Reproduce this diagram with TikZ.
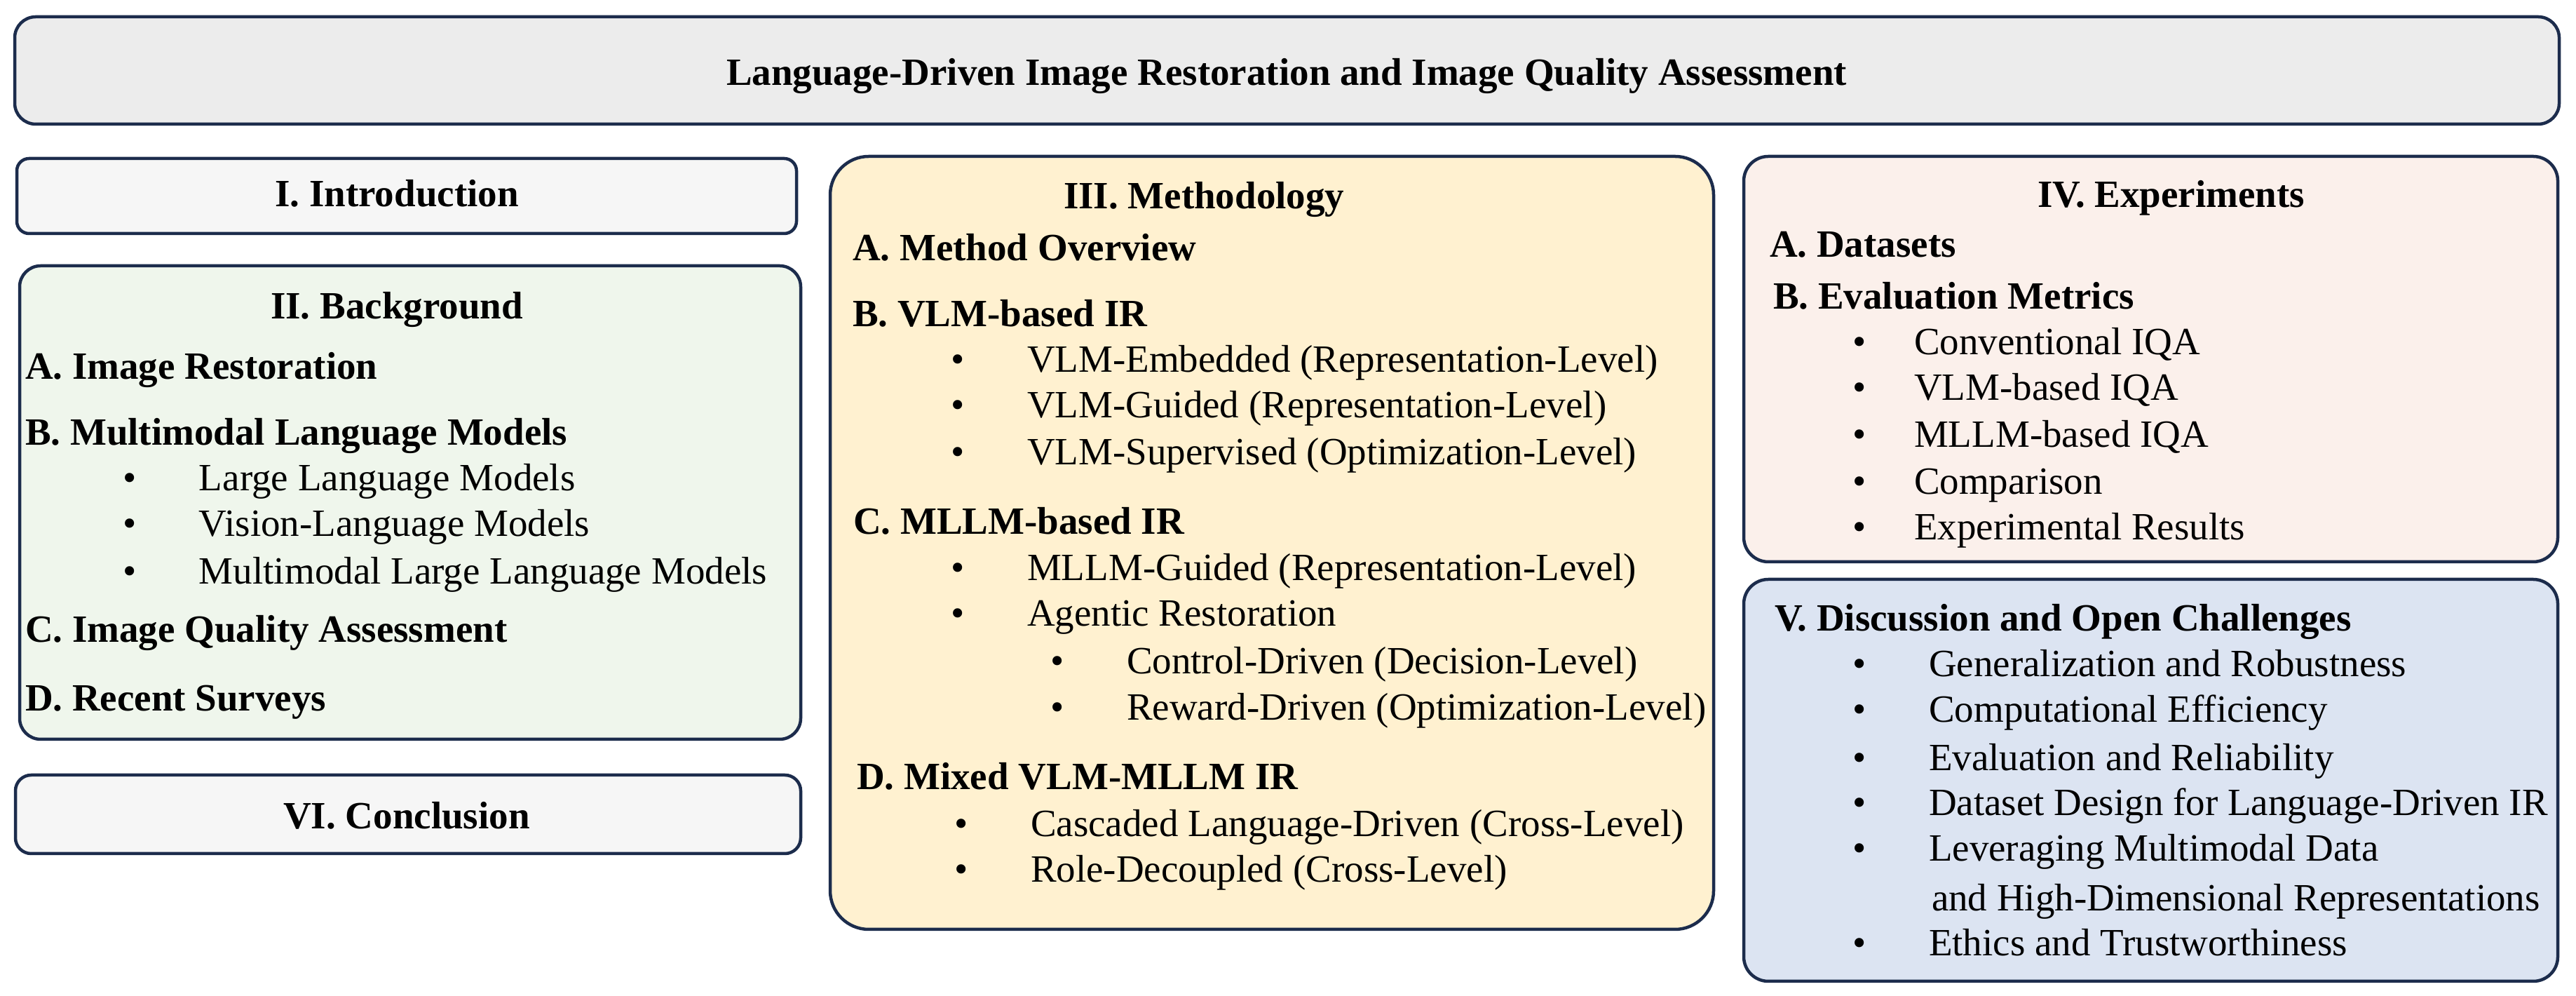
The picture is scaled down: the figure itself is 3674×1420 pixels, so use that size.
\documentclass[tikz,border=0pt]{standalone}
\usepackage{fontspec}
\setmainfont{Liberation Serif}
\usepackage{tikz}
\usetikzlibrary{fit}
\definecolor{frameNavy}{HTML}{1C2C4C}
\definecolor{titleGray}{HTML}{ECECEC}
\definecolor{plainGray}{HTML}{F6F6F6}
\definecolor{bgGreen}{HTML}{EFF6EC}
\definecolor{methYellow}{HTML}{FFF1D0}
\definecolor{expPink}{HTML}{FBF0EB}
\definecolor{discBlue}{HTML}{DCE4F2}
\newcommand{\blt}[1][17.9pt]{\llap{\textbullet\hspace{#1}}}
\tikzset{
  box/.style = {draw=frameNavy, line width=0.9pt, inner sep=0pt},
  hd/.style  = {font=\fontsize{11}{13}\selectfont\bfseries, anchor=base west,
                inner sep=0pt},
  hdc/.style = {hd, anchor=base},
  itm/.style = {font=\fontsize{11}{13}\selectfont, anchor=base west,
                inner sep=0pt},
}

\begin{document}
\begin{tikzpicture}[x=0.2pt, y=-0.2pt]
    \useasboundingbox (0,0) rectangle (3674,1420);
    % title
    \node[box, fill=titleGray, rounded corners=6pt, fit={(21,24) (3650,177)}] (titlebox) {};
    \node[hdc] (title) at (1835,122)
      {Language-Driven Image Restoration and Image Quality Assessment};
    % left column
    \node[box, fill=plainGray, rounded corners=3.5pt, fit={(24,226) (1136,333)}] (introbox) {};
    \node[hdc] (intro) at (566,295) {I. Introduction};
    \node[box, fill=bgGreen, rounded corners=6pt, fit={(28,379) (1142,1054)}] (bgbox) {};
    \node[hdc] (bg) at (566,455) {II. Background};
    \node[hd] (bgA) at (35,541) {A. Image Restoration};
    \node[hd] (bgB) at (35,635) {B. Multimodal Language Models};
    \foreach \y/\t [count=\i] in {700/Large Language Models, 765/Vision-Language Models,
                                  833/Multimodal Large Language Models}{%
      \node[itm] (bgB\i) at (283,\y) {\blt\t};}
    \node[hd] (bgC) at (35,916) {C. Image Quality Assessment};
    \node[hd] (bgD) at (35,1014) {D. Recent Surveys};
    \node[box, fill=plainGray, rounded corners=4.5pt, fit={(22,1105) (1142,1217)}] (conclbox) {};
    \node[hdc] (concl) at (580,1182) {VI. Conclusion};
    % methodology
    \node[box, fill=methYellow, rounded corners=11pt, fit={(1184,223) (2444,1325)}] (methbox) {};
    \node[hd] (meth) at (1516,298) {III. Methodology};
    \node[hd] (methA) at (1215,372) {A. Method Overview};
    \node[hd] (methB) at (1215,466) {B. VLM-based IR};
    \foreach \y/\t [count=\i] in {531/VLM-Embedded (Representation-Level),
                                  596/VLM-Guided (Representation-Level),
                                  663/VLM-Supervised (Optimization-Level)}{%
      \node[itm] (methB\i) at (1464,\y) {\blt\t};}
    \node[hd] (methC) at (1216,762) {C. MLLM-based IR};
    \foreach \y/\t [count=\i] in {828/MLLM-Guided (Representation-Level),
                                  893/Agentic Restoration}{%
      \node[itm] (methC\i) at (1464,\y) {\blt\t};}
    \foreach \y/\t [count=\i] in {961/Control-Driven (Decision-Level),
                                  1027/Reward-Driven (Optimization-Level)}{%
      \node[itm] (agent\i) at (1606,\y) {\blt\t};}
    \node[hd] (methD) at (1221,1126) {D. Mixed VLM-MLLM IR};
    \foreach \y/\t [count=\i] in {1193/Cascaded Language-Driven (Cross-Level),
                                  1258/Role-Decoupled (Cross-Level)}{%
      \node[itm] (methD\i) at (1469,\y) {\blt\t};}
    % experiments
    \node[box, fill=expPink, rounded corners=7pt, fit={(2487,223) (3648,801)}] (expbox) {};
    \node[hd] (exp) at (2905,296) {IV. Experiments};
    \node[hd] (expA) at (2523,367) {A. Datasets};
    \node[hd] (expB) at (2528,441) {B. Evaluation Metrics};
    \foreach \y/\t [count=\i] in {506/Conventional IQA, 571/VLM-based IQA, 638/MLLM-based IQA,
                                  705/Comparison, 770/Experimental Results}{%
      \node[itm] (expB\i) at (2729,\y) {\blt[13.7pt]\t};}
    % discussion
    \node[box, fill=discBlue, rounded corners=7pt, fit={(2487,826) (3648,1399)}] (discbox) {};
    \node[hd] (disc) at (2530,900) {V. Discussion and Open Challenges};
    \foreach \y/\t [count=\i] in {965/Generalization and Robustness,
                                  1030/Computational Efficiency,
                                  1099/Evaluation and Reliability,
                                  1163/Dataset Design for Language-Driven IR,
                                  1228/Leveraging Multimodal Data,
                                  1363/Ethics and Trustworthiness}{%
      \node[itm] (disc\i) at (2750,\y) {\blt\t};}
    \node[itm] (disc5b) at (2754,1298) {and High-Dimensional Representations};
  \end{tikzpicture}
\end{document}
